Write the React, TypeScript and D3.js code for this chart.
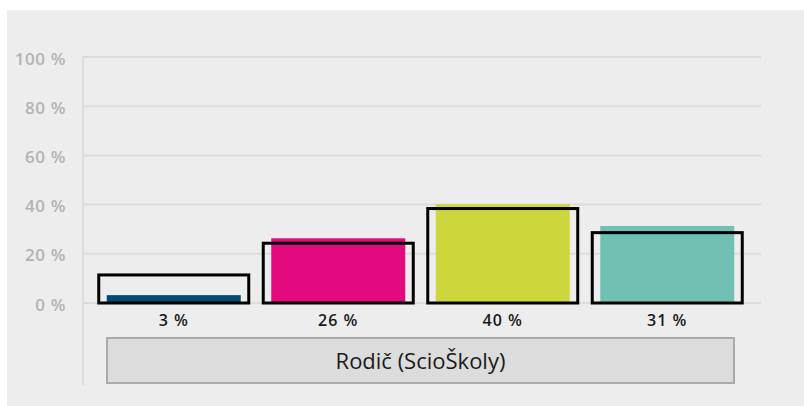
import React from 'react';
import * as d3 from 'd3';

const CATEGORIES = ['a', 'b', 'c', 'd'];
const VALUES = [3.2, 26.3, 40.2, 31.3];
const LABELS = ['3 %', '26 %', '40 %', '31 %'];
const TARGETS = [11.4, 24.3, 38.4, 28.6];
const COLORS = ['#054a72', '#e30a80', '#cdd73d', '#70c1b4'];
const Y_TICKS = [0, 20, 40, 60, 80, 100];
const GROUP = 'Rodič (ScioŠkoly)';

const W = 804;
const H = 406;
const FONT = '"Open Sans", "Noto Sans", sans-serif';

const App: React.FC = () => {
  const y = d3.scaleLinear().domain([0, 100]).range([303, 57]);
  const x = d3.scaleBand<string>().domain(CATEGORIES).range([91.5, 749.5]).paddingInner(0).paddingOuter(0);
  const barW = 134;
  const boxW = 150;

  return (
    <div style={{ position: 'absolute', left: 0, top: 0 }}>
      <svg width={W} height={H} style={{ display: 'block' }}>
        <rect x={0} y={0} width={W} height={H} fill="#fff" />
        <rect x={7} y={10} width={W - 7} height={H - 10} fill="#ededed" />

        {/* grid + y labels */}
        {Y_TICKS.map(t => (
          <g key={t}>
            <line x1={83} x2={761} y1={y(t)} y2={y(t)} stroke="#dcdcdc" strokeWidth={2} />
            <text x={66} y={y(t) + 1.5} dy="0.36em" textAnchor="end" fill="#b3b3b3"
              fontFamily={FONT} fontWeight={600} fontSize={17} letterSpacing={0.6}>
              {t} %
            </text>
          </g>
        ))}
        <line x1={83} x2={83} y1={56} y2={385} stroke="#dcdcdc" strokeWidth={2} />

        {/* bars */}
        {CATEGORIES.map((c, i) => {
          const cx = (x(c) ?? 0) + x.bandwidth() / 2;
          return (
            <g key={c}>
              <rect x={cx - barW / 2} y={y(VALUES[i])} width={barW} height={y(0) - y(VALUES[i])} fill={COLORS[i]} />
              <rect x={cx - boxW / 2} y={y(TARGETS[i])} width={boxW} height={y(0) - y(TARGETS[i])}
                fill="none" stroke="#000" strokeWidth={3} />
              <text x={cx} y={325.5} textAnchor="middle" fill="#1a1a1a"
                fontFamily={FONT} fontWeight={600} fontSize={16} letterSpacing={1}>
                {LABELS[i]}
              </text>
            </g>
          );
        })}

        {/* group label */}
        <rect x={107} y={338} width={627} height={45} fill="#dcdcdc" stroke="#aaa" strokeWidth={2} />
        <text x={420.5} y={369} textAnchor="middle" fill="#1a1a1a" fontFamily={FONT} fontSize={22}>
          {GROUP}
        </text>
      </svg>
    </div>
  );
};

export default App;
